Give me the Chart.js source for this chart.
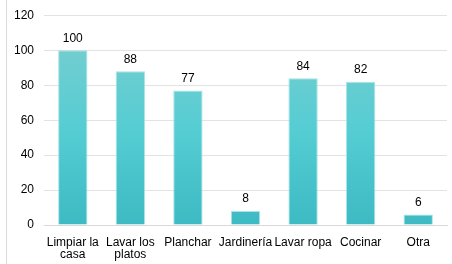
<!DOCTYPE html>
<html>
<head>
<meta charset="utf-8">
<script src="https://cdn.jsdelivr.net/npm/chart.js@4/dist/chart.umd.min.js"></script>
<style>
  html, body { margin: 0; padding: 0; background: #fff; }
  .wrap { position: relative; width: 452px; height: 264px; }
  .frame { position: absolute; left: 6px; top: 0; width: 1px; height: 264px; background: #d9d9d9; }
</style>
</head>
<body>
<div class="wrap">
  <div class="frame"></div>
  <canvas id="chart" width="452" height="264"></canvas>
</div>
<script>
// Chart data
const categories = [['Limpiar la', 'casa'], ['Lavar los', 'platos'], 'Planchar', 'Jardinería', 'Lavar ropa', 'Cocinar', 'Otra'];
const values = [100, 88, 77, 8, 84, 82, 6];
const yTicks = [0, 20, 40, 60, 80, 100, 120];

const FONT = '"Liberation Sans", Arial, sans-serif';

// Draw value labels above each bar
const valueLabels = {
  id: 'valueLabels',
  afterDatasetsDraw(chart) {
    const ctx = chart.ctx;
    const meta = chart.getDatasetMeta(0);
    ctx.save();
    ctx.font = '12px ' + FONT;
    ctx.fillStyle = '#000';
    ctx.textAlign = 'center';
    ctx.textBaseline = 'bottom';
    meta.data.forEach((bar, i) => {
      ctx.fillText(values[i], bar.x, bar.y - 6);
    });
    ctx.restore();
  }
};

// Vertical teal gradient for bars
function barGradient(context) {
  const area = context.chart.chartArea;
  if (!area) return '#50c8cf';
  const g = context.chart.ctx.createLinearGradient(0, area.top + 35, 0, area.bottom);
  g.addColorStop(0, '#72cdd0');
  g.addColorStop(0.45, '#55cdd3');
  g.addColorStop(1, '#3dbac3');
  return g;
}

const ctx = document.getElementById('chart').getContext('2d');
new Chart(ctx, {
  type: 'bar',
  data: {
    labels: categories,
    datasets: [{
      data: values,
      backgroundColor: barGradient,
      borderColor: 'rgba(160,225,228,0.9)',
      borderWidth: { left: 1, right: 1, top: 1, bottom: 0 },
      categoryPercentage: 1,
      barPercentage: 0.51
    }]
  },
  options: {
    responsive: false,
    animation: false,
    layout: { padding: { top: 0, right: 5, left: 0, bottom: 0 } },
    plugins: {
      legend: { display: false },
      tooltip: { enabled: false }
    },
    scales: {
      x: {
        grid: { display: false },
        border: { color: '#d9d9d9' },
        ticks: { color: '#000', font: { family: FONT, size: 12, lineHeight: 1.0 }, maxRotation: 0, autoSkip: false, padding: 4 },
        afterFit(scale) { scale.height = 39; }
      },
      y: {
        min: 0,
        max: 120,
        afterBuildTicks(scale) { scale.ticks = yTicks.map(v => ({ value: v })); },
        grid: { color: '#e3e3e3', drawTicks: false },
        border: { display: false },
        ticks: { color: '#000', font: { family: FONT, size: 12, lineHeight: 0.9 }, padding: 10 },
        afterFit(scale) { scale.width = 44; }
      }
    }
  },
  plugins: [valueLabels]
});
</script>
</body>
</html>
